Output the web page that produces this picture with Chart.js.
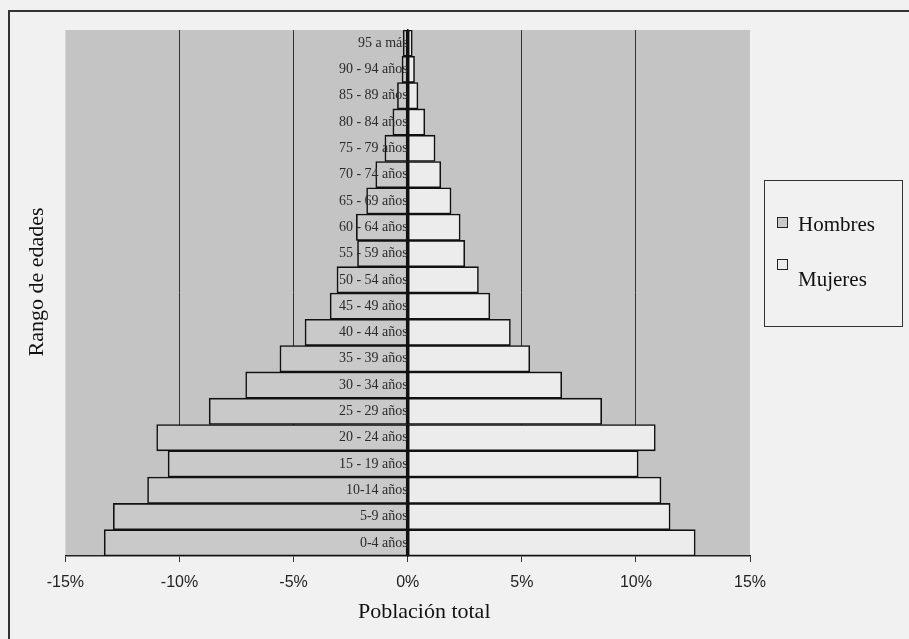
<!DOCTYPE html>
<html>
<head>
<meta charset="utf-8">
<script src="https://cdn.jsdelivr.net/npm/chart.js@4"></script>
<style>
  html, body { margin: 0; padding: 0; background: #f1f1f1; }
  #wrap { position: relative; width: 909px; height: 639px; overflow: hidden; }
  #frame { position: absolute; left: 8px; top: 10px; right: -4px; bottom: -4px;
           border-top: 2px solid #333; border-left: 2px solid #333; pointer-events: none; }
  #legend { position: absolute; left: 764px; top: 180px; width: 137px; height: 145px;
            border: 1.5px solid #333; font-family: "Liberation Serif", serif; font-size: 21px; color: #111; }
  .item { position: absolute; left: 12px; display: flex; line-height: 24px; }
  .box { width: 9px; height: 9px; border: 1.5px solid #222; margin-right: 10px; }
</style>
</head>
<body>
<div id="wrap">
  <canvas id="chart" width="909" height="639"></canvas>
  <div id="frame"></div>
  <div id="legend"></div>
</div>
<script>
// rangos de edad, de arriba hacia abajo
const ageGroups = ['95 a más', '90 - 94 años', '85 - 89 años', '80 - 84 años', '75 - 79 años',
    '70 - 74 años', '65 - 69 años', '60 - 64 años', '55 - 59 años', '50 - 54 años',
    '45 - 49 años', '40 - 44 años', '35 - 39 años', '30 - 34 años', '25 - 29 años',
    '20 - 24 años', '15 - 19 años', '10-14 años', '5-9 años', '0-4 años'];

// porcentaje de la población total (hombres a la izquierda, negativos)
const hombres = [-0.2, -0.25, -0.45, -0.65, -1.0, -1.4, -1.8, -2.25, -2.2, -3.1,
    -3.4, -4.5, -5.6, -7.1, -8.7, -11.0, -10.5, -11.4, -12.9, -13.3];
const mujeres = [0.2, 0.3, 0.45, 0.75, 1.2, 1.45, 1.9, 2.3, 2.5, 3.1,
    3.6, 4.5, 5.35, 6.75, 8.5, 10.85, 10.1, 11.1, 11.5, 12.6];

const xTicks = [-15, -10, -5, 0, 5, 10, 15];

const plotBackground = {
    id: 'plotBackground',
    beforeDraw(chart) {
        const { ctx, chartArea: a } = chart;
        ctx.save();
        ctx.fillStyle = '#c4c4c4';
        ctx.fillRect(a.left, a.top, a.right - a.left, a.bottom - a.top);
        ctx.restore();
    }
};

const ctx = document.getElementById('chart').getContext('2d');
const chart = new Chart(ctx, {
    type: 'bar',
    data: {
        labels: ageGroups,
        datasets: [
            { label: 'Hombres', data: hombres, backgroundColor: '#c9c9c9' },
            { label: 'Mujeres', data: mujeres, backgroundColor: '#ececec' }
        ]
    },
    options: {
        indexAxis: 'y',
        responsive: false,
        animation: false,
        layout: { padding: { left: 24, right: 159, top: 30, bottom: 13.4 } },
        datasets: {
            bar: {
                barPercentage: 1,
                categoryPercentage: 1,
                borderColor: '#111',
                borderWidth: 1.6,
                borderSkipped: false
            }
        },
        plugins: {
            legend: { display: false },
            tooltip: { enabled: false }
        },
        scales: {
            x: {
                type: 'linear',
                stacked: true,
                min: -15,
                max: 15,
                afterBuildTicks: axis => { axis.ticks = xTicks.map(v => ({ value: v })); },
                ticks: {
                    padding: 11,
                    color: '#222',
                    font: { family: 'Liberation Sans', size: 16 },
                    callback: v => v + '%'
                },
                grid: {
                    color: c => (Math.abs(c.tick.value) === 15) ? 'rgba(0,0,0,0)' : '#333',
                    tickColor: '#333',
                    tickLength: 6,
                    lineWidth: 1
                },
                border: { color: '#222', width: 1.5 },
                title: {
                    display: true,
                    text: '      Población total',
                    color: '#111',
                    padding: { top: -4, bottom: 0 },
                    font: { family: 'Liberation Serif', size: 22 }
                }
            },
            y: {
                stacked: true,
                position: { x: 0 },
                ticks: {
                    z: 1,
                    padding: 3,
                    color: '#2a2a2a',
                    font: { family: 'Liberation Serif', size: 14 }
                },
                grid: { display: false, drawTicks: false },
                border: { color: '#111', width: 1.5, z: 1 }
            },
            y2: {
                type: 'category',
                labels: ageGroups,
                position: 'left',
                ticks: { display: false },
                grid: { display: false, drawTicks: false },
                border: { display: false },
                title: {
                    display: true,
                    text: '    Rango de edades',
                    color: '#111',
                    padding: { top: 0, bottom: 15 },
                    font: { family: 'Liberation Serif', size: 22 }
                }
            }
        }
    },
    plugins: [plotBackground]
});

// leyenda con recuadro, a partir de los datasets
const legend = document.getElementById('legend');
const itemTops = [31, 78];
chart.data.datasets.forEach((ds, i) => {
    const item = document.createElement('div');
    item.className = 'item';
    item.style.top = itemTops[i] + 'px';
    const box = document.createElement('div');
    box.className = 'box';
    box.style.background = ds.backgroundColor;
    box.style.marginTop = i === 0 ? '5px' : '0px';
    const txt = document.createElement('span');
    txt.textContent = ds.label;
    if (i === 1) txt.style.marginTop = '8px';
    item.appendChild(box);
    item.appendChild(txt);
    legend.appendChild(item);
});
</script>
</body>
</html>
